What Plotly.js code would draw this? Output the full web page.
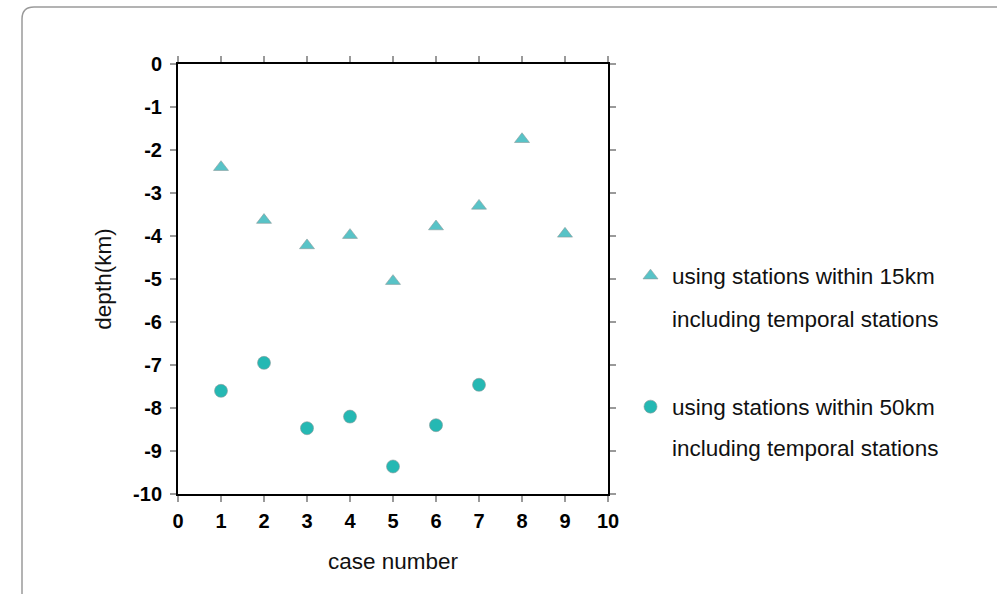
<!DOCTYPE html>
<html>
<head>
<meta charset="utf-8">
<script src="https://cdn.plot.ly/plotly-3.0.1.min.js"></script>
<style>html,body{margin:0;padding:0;background:#fff;}#chart{width:997px;height:594px;}</style>
</head>
<body>
<div id="chart"></div>
<script>
// Data
const caseNumbersA = [1, 2, 3, 4, 5, 6, 7, 8, 9];
const depth15km = [-2.4, -3.63, -4.22, -3.98, -5.05, -3.78, -3.3, -1.75, -3.95];
const caseNumbersB = [1, 2, 3, 4, 5, 6, 7];
const depth50km = [-7.6, -6.95, -8.47, -8.2, -9.36, -8.4, -7.46];
const seriesNames = ["using stations within 15km", "using stations within 50km"];
const seriesSubtitle = "including temporal stations";
const xTickVals = [0, 1, 2, 3, 4, 5, 6, 7, 8, 9, 10];
const yTickVals = [0, -1, -2, -3, -4, -5, -6, -7, -8, -9, -10];

const FONT = "Liberation Sans, Arial, sans-serif";

const traces = [
  {
    x: caseNumbersA, y: depth15km, type: "scatter", mode: "markers",
    name: seriesNames[0], legend: "legend",
    marker: {symbol: "triangle-up", size: 13, color: "#58c3c7", line: {color: "#8a9a9a", width: 0.6}}
  },
  {
    x: caseNumbersB, y: depth50km, type: "scatter", mode: "markers",
    name: seriesNames[1], legend: "legend2",
    marker: {symbol: "circle", size: 13, color: "#25b8b3", line: {color: "#8a9a9a", width: 0.6}}
  }
];

const axisCommon = {
  showgrid: false, zeroline: false,
  showline: true, linecolor: "#000", linewidth: 2, mirror: "ticks",
  ticks: "outside", ticklen: 6, tickwidth: 1.5, tickcolor: "#9a9a9a",
  tickfont: {family: FONT, size: 20, color: "#000", weight: "bold"}
};

const px2x = p => (p - 178) / 430;
const py2y = p => (494 - p) / 430;
const TXT = {family: FONT, size: 22.5, color: "#111"};

const layout = {
  width: 997, height: 594,
  margin: {l: 178, r: 389, t: 64, b: 100},
  paper_bgcolor: "#fff", plot_bgcolor: "#fff",
  font: {family: FONT, color: "#111"},
  showlegend: true,
  xaxis: Object.assign({}, axisCommon, {
    range: [0, 10], tickvals: xTickVals, ticktext: xTickVals.map(String),
    ticklabelstandoff: 2,
    title: {text: "case number", font: TXT, standoff: 22}
  }),
  yaxis: Object.assign({}, axisCommon, {
    range: [-10, 0], tickvals: yTickVals, ticktext: yTickVals.map(String),
    ticklabelstandoff: 4,
    title: {text: "depth(km)", font: TXT, standoff: 15}
  }),
  legend: {
    x: px2x(629), y: py2y(276), xanchor: "left", yanchor: "middle", itemwidth: 33,
    font: TXT, bgcolor: "rgba(0,0,0,0)"
  },
  legend2: {
    x: px2x(629), y: py2y(407), xanchor: "left", yanchor: "middle", itemwidth: 33,
    font: TXT, bgcolor: "rgba(0,0,0,0)"
  },
  annotations: [
    {xref: "paper", yref: "paper", x: px2x(670), y: py2y(319), xanchor: "left", yanchor: "middle",
     text: seriesSubtitle, showarrow: false, font: TXT},
    {xref: "paper", yref: "paper", x: px2x(670), y: py2y(448), xanchor: "left", yanchor: "middle",
     text: seriesSubtitle, showarrow: false, font: TXT}
  ],
  shapes: [
    {type: "path", xref: "paper", yref: "paper", layer: "below",
     path: "M " + px2x(22) + "," + py2y(640) + " L " + px2x(22) + "," + py2y(19) +
           " Q " + px2x(22) + "," + py2y(7) + " " + px2x(34) + "," + py2y(7) +
           " L " + px2x(1040) + "," + py2y(7),
     line: {color: "#9a9a9a", width: 1.5}}
  ]
};

Plotly.newPlot("chart", traces, layout, {displayModeBar: false, staticPlot: true});
</script>
</body>
</html>
